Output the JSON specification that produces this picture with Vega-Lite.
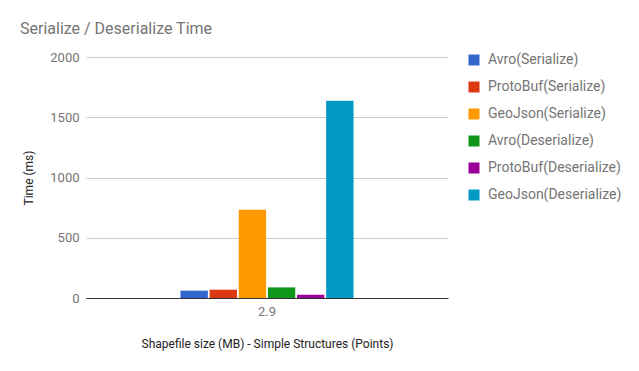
{
  "$schema": "https://vega.github.io/schema/vega-lite/v6.json",
  "width": 362,
  "height": 241,
  "autosize": {"type": "none"},
  "padding": {"left": 86, "top": 57, "right": 191, "bottom": 73},
  "background": "white",
  "title": {
    "text": "Serialize / Deserialize Time",
    "anchor": "start",
    "frame": "group",
    "dx": -66,
    "offset": 1,
    "baseline": "alphabetic",
    "font": "Roboto",
    "fontSize": 16,
    "fontWeight": "normal",
    "color": "#757575"
  },
  "config": {
    "view": {"stroke": null},
    "font": "Roboto"
  },
  "data": {
    "values": [
      {"size": "2.9", "series": "Avro(Serialize)", "time": 61},
      {"size": "2.9", "series": "ProtoBuf(Serialize)", "time": 69},
      {"size": "2.9", "series": "GeoJson(Serialize)", "time": 732},
      {"size": "2.9", "series": "Avro(Deserialize)", "time": 88},
      {"size": "2.9", "series": "ProtoBuf(Deserialize)", "time": 27},
      {"size": "2.9", "series": "GeoJson(Deserialize)", "time": 1637}
    ]
  },
  "mark": {"type": "bar"},
  "encoding": {
    "x": {
      "field": "size",
      "type": "nominal",
      "scale": {"paddingInner": 0, "paddingOuter": 0.546},
      "title": "Shapefile size (MB) - Simple Structures (Points)",
      "axis": {
        "domain": false,
        "ticks": false,
        "tickSize": 0,
        "labelPadding": 7,
        "labelAngle": 0,
        "labelFont": "Roboto",
        "labelFontSize": 13,
        "labelColor": "#757575",
        "titleFont": "Roboto",
        "titleFontSize": 12,
        "titleFontWeight": "normal",
        "titleColor": "#222222",
        "titlePadding": 20
      }
    },
    "xOffset": {
      "field": "series",
      "type": "nominal",
      "sort": ["Avro(Serialize)", "ProtoBuf(Serialize)", "GeoJson(Serialize)", "Avro(Deserialize)", "ProtoBuf(Deserialize)", "GeoJson(Deserialize)"],
      "scale": {"paddingInner": 0.06, "paddingOuter": 0}
    },
    "y": {
      "field": "time",
      "type": "quantitative",
      "scale": {"domain": [0, 2000], "nice": false},
      "title": "Time (ms)",
      "axis": {
        "values": [0, 500, 1000, 1500, 2000],
        "format": "d",
        "domain": false,
        "ticks": false,
        "tickSize": 0,
        "labelPadding": 7,
        "labelFont": "Roboto",
        "labelFontSize": 13,
        "labelColor": "#757575",
        "gridColor": {"condition": {"test": "datum.value === 0", "value": "#333333"}, "value": "#cccccc"},
        "titleFont": "Roboto",
        "titleFontSize": 12,
        "titleFontWeight": "normal",
        "titleColor": "#222222",
        "titlePadding": 14
      }
    },
    "color": {
      "field": "series",
      "type": "nominal",
      "sort": ["Avro(Serialize)", "ProtoBuf(Serialize)", "GeoJson(Serialize)", "Avro(Deserialize)", "ProtoBuf(Deserialize)", "GeoJson(Deserialize)"],
      "scale": {
        "domain": ["Avro(Serialize)", "ProtoBuf(Serialize)", "GeoJson(Serialize)", "Avro(Deserialize)", "ProtoBuf(Deserialize)", "GeoJson(Deserialize)"],
        "range": ["#3366cc", "#dc3912", "#ff9900", "#109618", "#990099", "#0099c6"]
      },
      "legend": {
        "title": null,
        "orient": "none",
        "legendX": 381,
        "legendY": -4,
        "symbolType": "square",
        "symbolSize": 121,
        "symbolStrokeWidth": 0,
        "symbolOpacity": 1,
        "labelFont": "Roboto",
        "labelFontSize": 14,
        "labelColor": "#757575",
        "labelOffset": 7,
        "rowPadding": 13,
        "labelLimit": 200
      }
    }
  }
}
